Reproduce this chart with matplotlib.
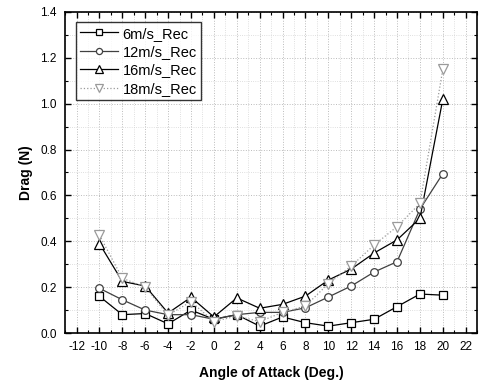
import numpy as np
import matplotlib.pyplot as plt
from matplotlib.ticker import MultipleLocator

plt.rcParams['font.family'] = ['Liberation Sans', 'DejaVu Sans']
plt.rcParams['axes.unicode_minus'] = False

angle = [-10, -8, -6, -4, -2, 0, 2, 4, 6, 8, 10, 12, 14, 16, 18, 20]

drag_6 = [0.16, 0.08, 0.085, 0.04, 0.10, 0.06, 0.08, 0.03, 0.07, 0.045, 0.03, 0.045, 0.06, 0.115, 0.17, 0.165]
drag_12 = [0.195, 0.145, 0.10, 0.08, 0.08, 0.06, 0.08, 0.09, 0.09, 0.11, 0.157, 0.205, 0.266, 0.311, 0.54, 0.695]
drag_16 = [0.39, 0.225, 0.205, 0.087, 0.156, 0.07, 0.153, 0.108, 0.125, 0.161, 0.231, 0.279, 0.349, 0.406, 0.50, 1.02]
drag_18 = [0.427, 0.239, 0.20, 0.078, 0.137, 0.05, 0.074, 0.05, 0.09, 0.118, 0.215, 0.292, 0.384, 0.464, 0.565, 1.15]

fig = plt.figure(figsize=(4.82, 3.85), dpi=100)
ax = fig.add_axes([0.135, 0.135, 0.855, 0.834])

ax.plot(angle, drag_6, color='black', lw=0.9, marker='s', ms=5.5, mfc='white', mec='black', mew=0.9, label='6m/s_Rec')
ax.plot(angle, drag_12, color='#404040', lw=0.9, marker='o', ms=5.5, mfc='white', mec='#404040', mew=0.9, label='12m/s_Rec')
ax.plot(angle, drag_16, color='black', lw=0.9, marker='^', ms=6.5, mfc='white', mec='black', mew=0.9, label='16m/s_Rec')
ax.plot(angle, drag_18, color='#9a9a9a', lw=0.9, ls=':', marker='v', ms=6.5, mfc='white', mec='#9a9a9a', mew=0.9, label='18m/s_Rec')

ax.set_xlim(-13, 23)
ax.set_ylim(0, 1.4)
ax.xaxis.set_major_locator(MultipleLocator(2))
ax.xaxis.set_minor_locator(MultipleLocator(1))
ax.yaxis.set_major_locator(MultipleLocator(0.2))
ax.yaxis.set_minor_locator(MultipleLocator(0.1))
ax.yaxis.set_major_formatter(plt.FuncFormatter(lambda v, p: f'{v:.1f}'))

ax.grid(which='major', color='#bbbbbb', ls=':', lw=0.7)
ax.grid(which='minor', color='#d5d5d5', ls=':', lw=0.6)
ax.set_axisbelow(True)

ax.tick_params(which='both', direction='in', top=True, right=True, labelsize=8.5, pad=6)
ax.tick_params(which='major', length=4, width=1)
ax.tick_params(which='minor', length=2.5, width=0.8)
for s in ax.spines.values():
    s.set_linewidth(1.2)

ax.set_xlabel('Angle of Attack (Deg.)', fontsize=10, fontweight='bold', labelpad=9)
ax.set_ylabel('Drag (N)', fontsize=10, fontweight='bold', labelpad=5)

leg = ax.legend(loc='upper left', bbox_to_anchor=(0.026, 0.968), fontsize=10.5, frameon=True, fancybox=False,
                edgecolor='black', handlelength=2.6, handletextpad=0.3, borderpad=0.3, labelspacing=0.3,
                borderaxespad=0, markerscale=0.8)
leg.get_frame().set_linewidth(1.0)

fig.savefig('out.png', dpi=100)
